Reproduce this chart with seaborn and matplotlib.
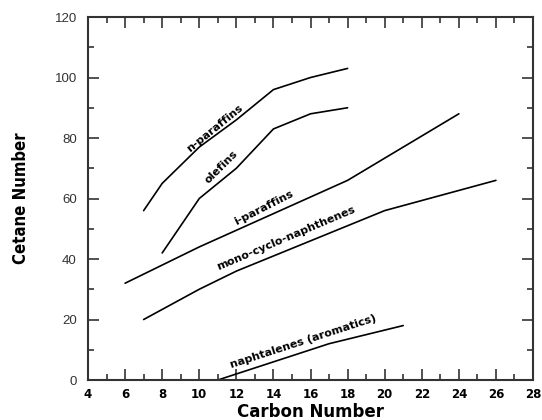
import matplotlib
matplotlib.use("Agg")
import matplotlib.pyplot as plt
import seaborn as sns
import pandas as pd
from matplotlib.ticker import MultipleLocator

# Data
n_paraffins_x = [7, 8, 10, 12, 14, 16, 18]
n_paraffins_y = [56, 65, 77, 86, 96, 100, 103]
olefins_x = [8, 10, 12, 14, 16, 18]
olefins_y = [42, 60, 70, 83, 88, 90]
i_paraffins_x = [6, 10, 14, 18, 21, 24]
i_paraffins_y = [32, 44, 55, 66, 77, 88]
mono_x = [7, 10, 12, 16, 20, 26]
mono_y = [20, 30, 36, 46, 56, 66]
naph_x = [11, 14, 17, 21]
naph_y = [0, 6, 12, 18]

series = {
    "n-paraffins": (n_paraffins_x, n_paraffins_y),
    "olefins": (olefins_x, olefins_y),
    "i-paraffins": (i_paraffins_x, i_paraffins_y),
    "mono-cyclo-naphthenes": (mono_x, mono_y),
    "naphtalenes (aromatics)": (naph_x, naph_y),
}
rows = []
for name, (xs, ys) in series.items():
    for x, y in zip(xs, ys):
        rows.append({"series": name, "carbon": x, "cetane": y})
df = pd.DataFrame(rows)

sns.set_style("ticks")
plt.rcParams["font.family"] = ["DejaVu Sans"]
plt.rcParams["text.color"] = "black"
plt.rcParams["axes.labelcolor"] = "black"

fig = plt.figure(figsize=(5.42, 4.20), dpi=100)
ax = fig.add_axes([0.1624, 0.0952, 0.8210, 0.8643])

sns.lineplot(data=df, x="carbon", y="cetane", hue="series",
             palette=["black"] * 5, estimator=None, sort=False,
             linewidth=1.2, legend=False, ax=ax)

ax.set_xlim(4, 28)
ax.set_ylim(0, 120)
ax.xaxis.set_major_locator(MultipleLocator(2))
ax.xaxis.set_minor_locator(MultipleLocator(1))
ax.yaxis.set_major_locator(MultipleLocator(20))
ax.yaxis.set_minor_locator(MultipleLocator(10))
ax.tick_params(which="both", direction="in", top=True, right=True,
               color="#333333", width=1.2)
ax.tick_params(which="major", length=8)
ax.tick_params(which="minor", length=4)
for sp in ax.spines.values():
    sp.set_color("#333333")
    sp.set_linewidth(1.5)
    sp.set_visible(True)

for lab in ax.get_xticklabels():
    lab.set_fontweight("bold")
    lab.set_fontsize(8.5)
    lab.set_color("black")
for lab in ax.get_yticklabels():
    lab.set_fontfamily("Liberation Sans")
    lab.set_fontsize(9.5)
    lab.set_color("#333333")
ax.tick_params(axis="x", pad=6)
ax.tick_params(axis="y", pad=8)

ax.set_xlabel("Carbon Number", fontsize=12, fontweight="bold", labelpad=1,
              color="black")
ax.set_ylabel("Cetane Number", fontsize=12, fontweight="bold",
              fontstretch="condensed", labelpad=18, color="black")

labels = [
    ("n-paraffins", 10.85, 83.3, 39),
    ("olefins", 11.2, 70.4, 45),
    ("i-paraffins", 13.5, 56.9, 27),
    ("mono-cyclo-naphthenes", 14.7, 47.0, 23),
    ("naphtalenes (aromatics)", 15.6, 12.6, 18),
]
for txt, x, y, rot in labels:
    ax.text(x, y, txt, rotation=rot, ha="center", va="center",
            fontsize=8, fontweight="bold", rotation_mode="anchor",
            color="black")

fig.savefig("out.png", dpi=100)
